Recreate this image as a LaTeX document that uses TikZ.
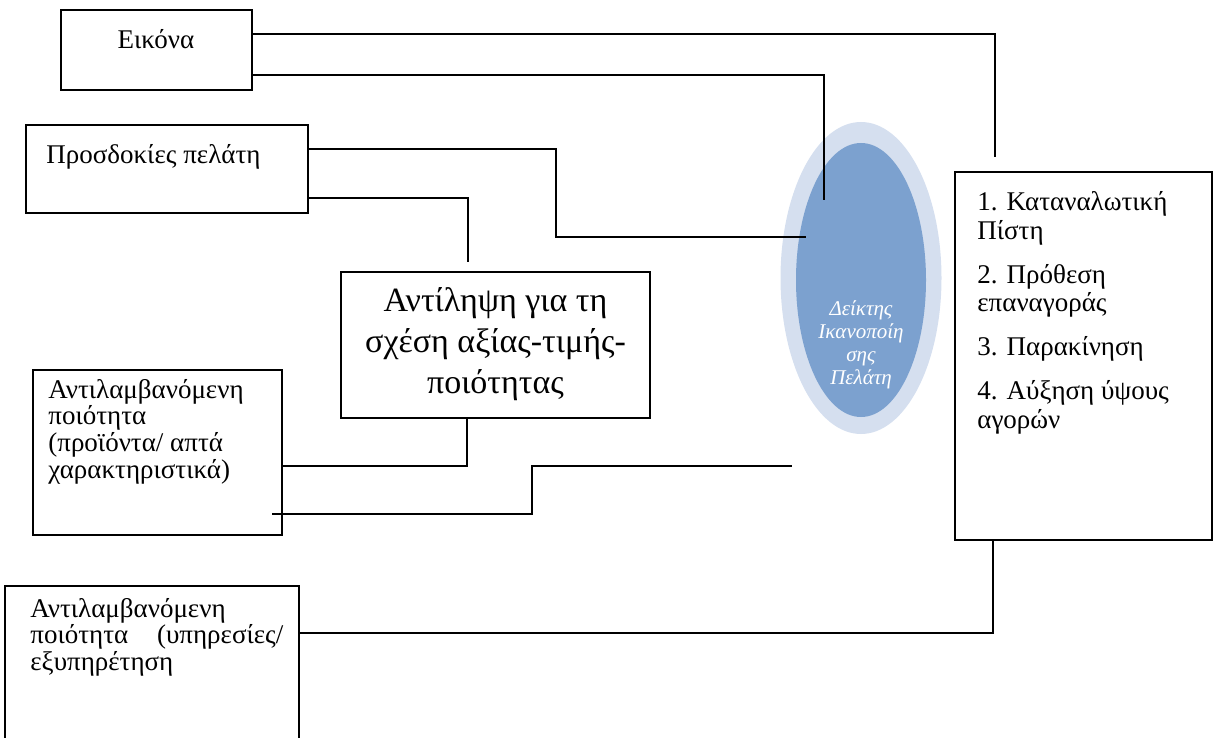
\documentclass[tikz,border=0pt]{standalone}
\usepackage{fontspec}
\setmainfont{Liberation Serif}
\usetikzlibrary{shapes.geometric}
\definecolor{ringblue}{RGB}{213,223,239}
\definecolor{coreblue}{RGB}{124,161,207}
\newcommand{\bodyfont}{\fontsize{13.5}{12.75}\selectfont}
\begin{document}
\begin{tikzpicture}[x=0.5pt,y=-0.5pt,
  box/.style={draw, line width=0.75pt, rectangle, inner sep=0pt},
  link/.style={draw, line width=1pt},
  txt/.style={inner sep=0pt, font=\bodyfont},
  ]
\useasboundingbox (0,0) rectangle (1216,738);
\clip (0,0) rectangle (1216,738);

% central index: two nested ellipses
\node[ellipse, fill=ringblue, inner sep=0pt, minimum width=80.5pt, minimum height=156pt] (ring) at (861,278) {};
\node[ellipse, fill=coreblue, inner sep=0pt, minimum width=65pt, minimum height=137pt] (core) at (861,280) {};
\node[inner sep=0pt, text=white, font=\fontsize{10.5}{11.5}\selectfont\itshape, anchor=base] (coretext) at (861,315)
  {\begin{tabular}[t]{@{}c@{}}Δείκτης\\Ικανοποίη\\σης\\Πελάτη\end{tabular}};

% boxes
\node[box, minimum width=95.5pt, minimum height=40pt] (eik) at (156.5,50) {};
\node[box, minimum width=141pt, minimum height=44pt] (pros) at (167,169) {};
\node[box, minimum width=154.5pt, minimum height=73pt] (anti) at (495.5,345) {};
\node[box, minimum width=124.5pt, minimum height=82.5pt] (prod) at (157.5,452.5) {};
\node[box, minimum width=147pt, minimum height=87pt] (serv) at (152,673) {};
\node[box, minimum width=128.5pt, minimum height=184pt] (res) at (1083.5,356) {};

% box texts
\node[txt, anchor=base] (eiktext) at (156,49) {Εικόνα};
\node[txt, anchor=base west] (prostext) at (46,163) {Προσδοκίες πελάτη};
\node[inner sep=0pt, anchor=base, font=\fontsize{17}{20.5}\selectfont] (antitext) at (495.5,311)
  {\begin{tabular}[t]{@{}c@{}}Αντίληψη για τη\\σχέση αξίας-τιμής-\\ποιότητας\end{tabular}};
\node[txt, anchor=base west] (prodtext) at (48,398)
  {\begin{tabular}[t]{@{}l@{}}Αντιλαμβανόμενη\\ποιότητα\\(προϊόντα/ απτά\\χαρακτηριστικά)\end{tabular}};
\node[txt, anchor=base west, font=\fontsize{13.5}{12.5}\selectfont] (servtext) at (30,617)
  {\begin{tabular}[t]{@{}l@{}}Αντιλαμβανόμενη\\\makebox[126.5pt][l]{ποιότητα\hfill(υπηρεσίες/}\\εξυπηρέτηση\end{tabular}};
\node[txt, anchor=base west, font=\fontsize{13.5}{14.5}\selectfont] (restext) at (977,210)
  {\begin{tabular}[t]{@{}l@{}}1. Καταναλωτική\\Πίστη\\[7.5pt]2. Πρόθεση\\επαναγοράς\\[7.5pt]3. Παρακίνηση\\[7.5pt]4. Αύξηση ύψους\\αγορών\end{tabular}};

% free ends of the connectors
\coordinate (e1) at (995,157);
\coordinate (e2) at (824,200);
\coordinate (e3) at (806,237);
\coordinate (e4) at (468,262);
\coordinate (s7) at (272,514);
\coordinate (e7) at (792,466);

% connectors
\draw[link] (eik.east |- 0,34) -| (e1);
\draw[link] (eik.east |- 0,75) -| (e2);
\draw[link] (pros.east |- 0,149) -| (556,237) -- (e3);
\draw[link] (pros.east |- 0,198) -| (e4);
\draw[link] (prod.east |- 0,466) -| (anti.south -| 467,0);
\draw[link] (s7) -| (532,466) -- (e7);
\draw[link] (serv.east |- 0,633) -| (res.south -| 993,0);
\end{tikzpicture}
\end{document}
